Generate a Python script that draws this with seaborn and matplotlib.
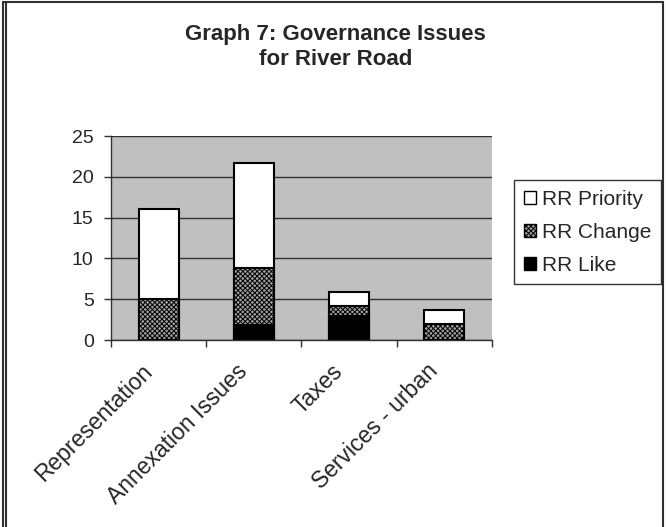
import matplotlib
matplotlib.use("Agg")
import matplotlib.pyplot as plt
import matplotlib.transforms as mtransforms
import seaborn as sns
import pandas as pd
from matplotlib.patches import Patch
from matplotlib.lines import Line2D

# values
categories = ["Representation", "Annexation Issues", "Taxes", "Services - urban"]
rr_like = [0.0, 1.8, 3.0, 0.0]
rr_change = [5.0, 7.0, 1.2, 2.0]
rr_priority = [11.0, 12.9, 1.7, 1.7]
y_ticks = [0, 5, 10, 15, 20, 25]
series_names = ["RR Priority", "RR Change", "RR Like"]

sns.set_style("white")
plt.rcParams['font.family'] = ['Liberation Sans', 'DejaVu Sans']
plt.rcParams['hatch.linewidth'] = 0.7

df = pd.DataFrame({"issue": categories, "like": rr_like,
                   "change": rr_change, "priority": rr_priority})
# stacked bars: draw the cumulative totals from biggest to smallest
df["change_top"] = df["like"] + df["change"]
df["total"] = df["change_top"] + df["priority"]

fig = plt.figure(figsize=(6.66, 5.27), dpi=100)
ax = fig.add_axes([0.1667, 0.3548, 0.572, 0.387])
ax.set_facecolor("#c0c0c0")

bar_kw = dict(data=df, x="issue", edgecolor="black", linewidth=1.5,
              width=0.42, ax=ax, saturation=1, errorbar=None)
sns.barplot(y="total", color="white", **bar_kw)
sns.barplot(y="change_top", color="#a0a0a0", hatch="xxxxxxx", **bar_kw)
sns.barplot(y="like", color="black", **bar_kw)

ax.set_ylim(0, 25)
ax.set_xlim(-0.5, 3.5)
ax.set_yticks(y_ticks)
ax.set_yticklabels([str(t) for t in y_ticks], fontsize=14)
ax.set_axisbelow(True)
ax.yaxis.grid(True, color="#303030", linewidth=1)
ax.set_xlabel("")
ax.set_ylabel("")

for s in ["top", "right"]:
    ax.spines[s].set_visible(False)
for s in ["left", "bottom"]:
    ax.spines[s].set_color("#303030")
    ax.spines[s].set_linewidth(1)

ax.tick_params(axis="y", left=True, length=5, width=1, color="#303030", pad=7.5)
ax.set_xticks([-0.5, 0.5, 1.5, 2.5, 3.5], minor=True)
ax.tick_params(axis="x", which="minor", bottom=True, length=5, width=1, color="#303030")
ax.tick_params(axis="x", which="major", bottom=False, length=0, pad=14)
ax.set_xticks(range(len(categories)))
ax.set_xticklabels(categories, rotation=45, ha="right", rotation_mode="anchor", fontsize=16.5)
# nudge the slanted labels a bit to the left, like the original
shift = mtransforms.ScaledTranslation(-18 / 100, 0, fig.dpi_scale_trans)
for lbl in ax.get_xticklabels():
    lbl.set_transform(lbl.get_transform() + shift)

fig.text(0.504, 0.911, "Graph 7: Governance Issues\nfor River Road", ha="center",
         va="center", fontsize=16, fontweight="bold", linespacing=1.2)

handles = [Patch(facecolor="white", edgecolor="black", linewidth=1),
           Patch(facecolor="#a0a0a0", edgecolor="black", hatch="xxxxxxx", linewidth=1),
           Patch(facecolor="black", edgecolor="black", linewidth=1)]
leg = fig.legend(handles, series_names, loc="upper left", bbox_to_anchor=(0.772, 0.658),
                 fontsize=15, frameon=True, fancybox=False, handlelength=0.6,
                 handleheight=0.6, handletextpad=0.3, labelspacing=0.68,
                 borderpad=0.45, borderaxespad=0)
leg.get_frame().set_edgecolor("black")
leg.get_frame().set_linewidth(1)

# outer chart frame
for xs, ys in [([0.0045, 0.0045], [0, 0.996]), ([0.009, 0.009], [0, 0.996]),
               ([0.0045, 0.996], [0.996, 0.996]), ([0.996, 0.996], [0, 0.996])]:
    fig.add_artist(Line2D(xs, ys, color="#303030", linewidth=1.5, transform=fig.transFigure))

fig.savefig("out.png", dpi=100)
